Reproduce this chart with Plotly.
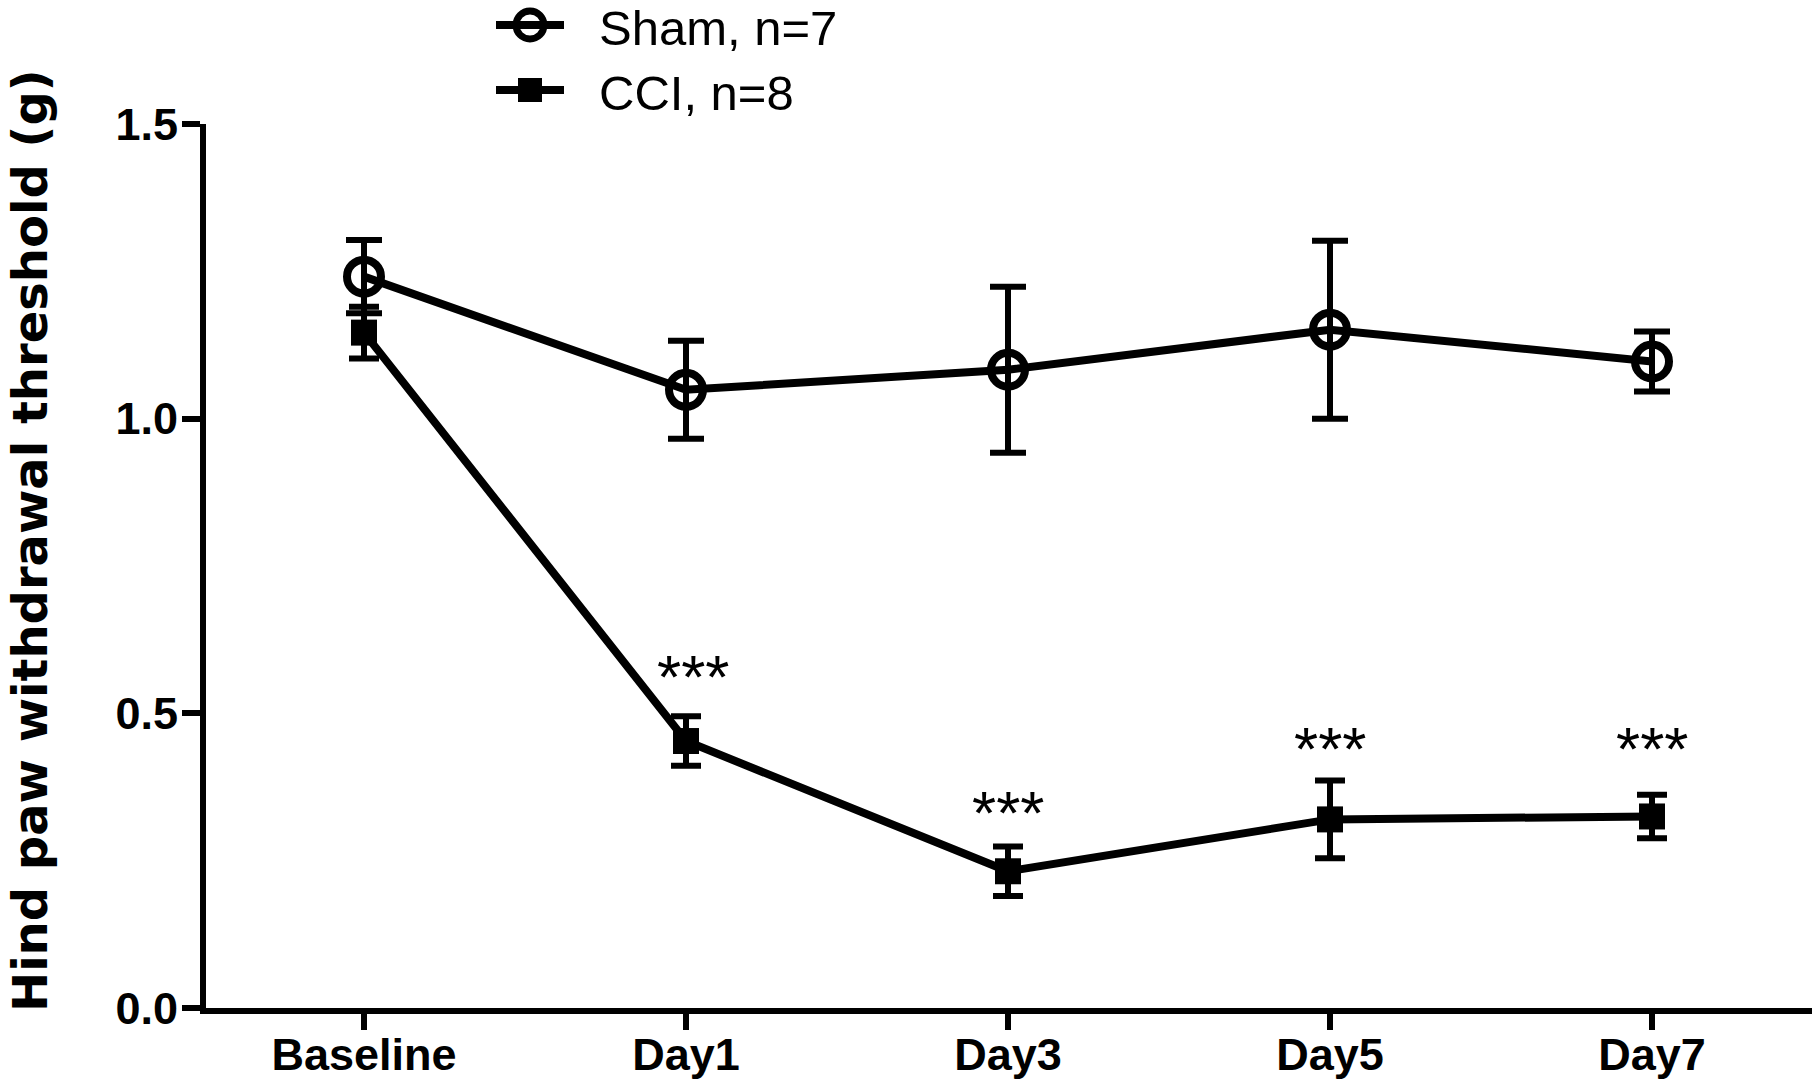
import plotly.graph_objects as go

# categories and measured values (g)
days = ['Baseline', 'Day1', 'Day3', 'Day5', 'Day7']

sham_mean = [1.241, 1.049, 1.083, 1.151, 1.097]
sham_sem = [0.062, 0.083, 0.141, 0.151, 0.051]

cci_mean = [1.146, 0.453, 0.232, 0.320, 0.325]
cci_sem = [0.044, 0.042, 0.042, 0.066, 0.037]

# significance marks (CCI vs Sham)
star_days = ['Day1', 'Day3', 'Day5', 'Day7']
star_y = [0.581, 0.351, 0.459, 0.459]

yticks = [0, 0.5, 1.0, 1.5]
ytick_text = ['0.0', '0.5', '1.0', '1.5']

FW, FH = 1820, 1083
# plot area in page pixels
PL, PR, PT, PB = 206, 1812, 124, 1008
PW, PH = PR - PL, PB - PT


def px_x(px):
    return (px - PL) / PW


def px_y(py):
    return (PB - py) / PH


fig = go.Figure()

fig.add_trace(go.Scatter(
    x=days, y=sham_mean, name='Sham, n=7', mode='lines+markers',
    line=dict(color='black', width=8),
    marker=dict(symbol='circle-open', size=34, color='black', line=dict(width=8)),
    error_y=dict(type='data', array=sham_sem, color='black', thickness=6, width=18),
    showlegend=False,
))

fig.add_trace(go.Scatter(
    x=days, y=cci_mean, name='CCI, n=8', mode='lines+markers',
    line=dict(color='black', width=8),
    marker=dict(symbol='square', size=26, color='black', line=dict(width=0)),
    error_y=dict(type='data', array=cci_sem, color='black', thickness=6, width=15),
    showlegend=False,
))

for i, (d, y) in enumerate(zip(star_days, star_y)):
    fig.add_annotation(x=d, y=y, text='***', showarrow=False, yshift=-11,
                       xshift=7 if i == 0 else 0,
                       font=dict(family='Liberation Sans, Arial', size=62, color='black'))

# legend drawn by hand so the sample line and markers keep their size
legend_rows = [('Sham, n=7', 25, 'circle'), ('CCI, n=8', 90, 'square')]
for label, py, sym in legend_rows:
    fig.add_shape(type='line', xref='paper', yref='paper',
                  x0=px_x(496), x1=px_x(564), y0=px_y(py), y1=px_y(py),
                  line=dict(color='black', width=8))
    if sym == 'circle':
        fig.add_shape(type='circle', xref='paper', yref='paper',
                      x0=px_x(530 - 14), x1=px_x(530 + 14),
                      y0=px_y(py + 14), y1=px_y(py - 14),
                      line=dict(color='black', width=7))
    else:
        fig.add_shape(type='rect', xref='paper', yref='paper',
                      x0=px_x(530 - 12), x1=px_x(530 + 12),
                      y0=px_y(py + 12), y1=px_y(py - 12),
                      fillcolor='black', line=dict(width=0))
    fig.add_annotation(x=px_x(597), y=px_y(py + 3), xref='paper', yref='paper',
                       text=label, showarrow=False, xanchor='left', yanchor='middle',
                       font=dict(family='Liberation Sans, Arial', size=49, color='black'))

fig.add_annotation(x=px_x(30), y=px_y(541), xref='paper', yref='paper',
                   text='<b>Hind paw withdrawal threshold (g)</b>', textangle=-90,
                   showarrow=False, xanchor='center', yanchor='middle',
                   font=dict(family='DejaVu Sans', size=48, color='black'))

fig.update_layout(
    width=FW, height=FH,
    margin=dict(l=PL, r=FW - PR, t=PT, b=FH - PB, autoexpand=False),
    plot_bgcolor='white', paper_bgcolor='white',
    font=dict(family='Liberation Sans, Arial', color='black'),
    xaxis=dict(
        range=[-(364 - PL) / 322, 4 + (PR - 1652) / 322],
        showline=True, linecolor='black', linewidth=6,
        ticks='outside', ticklen=16, tickwidth=6, tickcolor='black',
        ticklabelstandoff=-14,
        showgrid=False, zeroline=False,
        tickfont=dict(family='Liberation Sans, Arial', size=45, color='black'),
        tickprefix='<b>', ticksuffix='</b>',
    ),
    yaxis=dict(
        range=[0, 1.5], showline=True, linecolor='black', linewidth=6,
        ticks='outside', ticklen=18, tickwidth=6, tickcolor='black',
        ticklabelstandoff=-5,
        tickvals=yticks, ticktext=['<b>' + t + '</b>' for t in ytick_text],
        showgrid=False, zeroline=False,
        tickfont=dict(family='Liberation Sans, Arial', size=45, color='black'),
    ),
)

# drop the default 8px body margin so the figure fills the window exactly
fig.write_html('out.html', config={'displayModeBar': False},
               post_script="document.body.style.margin='0';")
